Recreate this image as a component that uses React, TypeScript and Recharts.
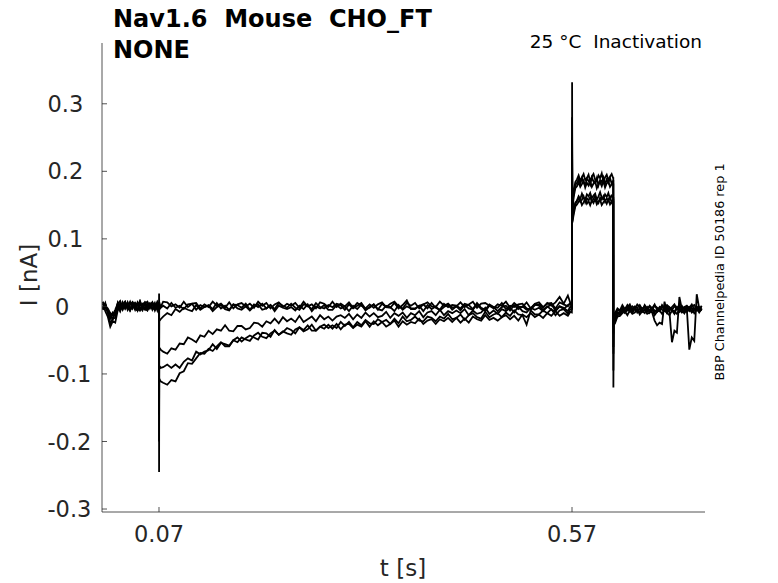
import React from 'react';
import { LineChart, Line, XAxis, YAxis } from 'recharts';

// sample times in ms, split by protocol phase
const PRE_MS = [
  2, 5, 8, 11, 14, 17, 20, 23, 26, 29,
  32, 35, 38, 41, 44, 47, 50, 53, 56, 59,
  62, 65, 68, 69.8,
];
const COND_MS = [
  70, 70.1, 70.3, 72, 75,
  80, 85, 90, 95, 100, 105, 110, 115, 120, 125,
  130, 135, 140, 145, 150, 155, 160, 165, 170, 175,
  180, 185, 190, 195, 200, 205, 210, 215, 220, 225,
  230, 235, 240, 245, 250, 255, 260, 265, 270, 275,
  280, 285, 290, 295, 300, 305, 310, 315, 320, 325,
  330, 335, 340, 345, 350, 355, 360, 365, 370, 375,
  380, 385, 390, 395, 400, 405, 410, 415, 420, 425,
  430, 435, 440, 445, 450, 455, 460, 465, 470, 475,
  480, 485, 490, 495, 500, 505, 510, 515, 520, 525,
  530, 535, 540, 545, 550, 555, 560, 565, 568, 569.8,
];
const TEST_MS = [
  570, 570.1, 570.4,
  572, 574, 576, 578, 580, 582, 584, 586, 588, 590,
  592, 594, 596, 598, 600, 602, 604, 606, 608, 610,
  612, 614, 616, 618, 619.8,
];
const TAIL_MS = [
  620, 620.1, 620.4,
  622, 625, 628, 631, 634, 637, 640, 643, 646, 649,
  652, 655, 658, 661, 664, 667, 670, 673, 676, 679,
  682, 685, 688, 691, 694, 697, 700, 703, 706, 709,
  712, 715, 718, 721, 724, 727,
];

// current in pA, one row per sweep
const PRE_PA = [
  [-3, 5, -9, -26, -18, -17, 4, -5, 6, -3, 5, -6, 3, -5, 6, -2, -6, 5, -3, 4, -5, 3, -4, 2],
  [4, -7, -15, -30, -22, -24, -6, 5, -4, 6, -5, 3, 6, -4, -6, 4, -2, -5, 5, -3, 4, -6, 3, -1],
  [6, -2, -8, -10, -14, -12, 5, -6, 3, 7, -2, -5, 6, 2, -6, 7, -3, 4, -5, 3, 6, -3, 5, -2],
  [-4, 3, -6, -18, -9, -12, 2, -7, 4, -3, 6, -5, 1, 5, -4, -6, 3, 6, -5, 1, -3, 5, -6, 2],
  [7, -1, -3, -10, -13, -5, 4, 8, -2, 6, 0, 7, -3, 5, 1, 8, -2, 4, 7, -1, 6, -2, 7, 3],
  [-5, 3, -8, -12, -20, -9, -6, 3, -5, 4, -3, -6, 4, -1, 5, -5, 3, -4, -6, 4, -2, -5, 3, -3],
];

const COND_PA = [
  [
    1, -245, -107, -111, -113,
    -116, -109, -111, -99, -96, -84, -85, -77, -69, -70,
    -63, -66, -59, -53, -59, -59, -50, -53, -46, -49,
    -51, -43, -39, -45, -47, -40, -36, -42, -38, -32,
    -35, -40, -31, -35, -28, -36, -36, -30, -33, -27,
    -33, -26, -34, -27, -26, -32, -27, -30, -22, -30,
    -22, -28, -23, -30, -26, -21, -30, -22, -27, -23,
    -25, -18, -26, -21, -19, -26, -19, -22, -17, -23,
    -17, -24, -18, -24, -15, -19, -21, -13, -20, -17,
    -21, -16, -13, -19, -14, -21, -12, -16, -10, -16,
    -12, -17, -10, -14, -7, -14, -10, -14, -8, -9,
  ],
  [
    0, -200, -88, -91, -90,
    -86, -91, -86, -91, -82, -77, -80, -67, -71, -67,
    -65, -56, -63, -54, -56, -58, -50, -46, -52, -47,
    -43, -46, -49, -39, -40, -45, -35, -42, -37, -40,
    -42, -34, -31, -37, -34, -27, -36, -30, -27, -32,
    -28, -32, -23, -29, -23, -31, -23, -28, -20, -25,
    -26, -19, -23, -20, -26, -18, -25, -15, -22, -20,
    -15, -21, -22, -15, -17, -22, -15, -18, -11, -19,
    -17, -12, -20, -13, -10, -16, -18, -8, -16, -12,
    -10, -16, -9, -14, -6, -12, -13, -27, -6, -12,
    -12, -6, -10, -4, -13, -6, -4, -11, -4, -4,
  ],
  [
    -2, -160, -61, -64, -67,
    -70, -62, -64, -55, -56, -46, -49, -53, -43, -45,
    -36, -41, -34, -36, -28, -36, -37, -29, -29, -34,
    -32, -24, -25, -30, -22, -25, -18, -25, -16, -22,
    -18, -23, -14, -23, -19, -15, -22, -13, -19, -15,
    -21, -15, -13, -17, -11, -19, -12, -17, -9, -15,
    -10, -16, -14, -8, -17, -10, -14, -9, -17, -10,
    -13, -7, -16, -9, -7, -13, -5, -13, -7, -10,
    -6, -10, -4, -13, -6, -11, -9, -2, -11, -6,
    -11, -4, -7, -2, -9, 0, -7, -9, -2, -5,
    -2, -7, 0, -5, -7, 0, -2, -7, 0, -2,
  ],
  [
    1, -120, -22, -19, -15,
    -10, -13, -4, -8, -2, -5, -7, 2, -5, -1,
    1, -7, -1, 2, -4, -6, 3, -3, -5, 0,
    -6, 0, 3, -5, -3, 2, -7, 1, -2, -4,
    -1, -6, 1, -4, 3, -7, 0, -3, 2, -5,
    -5, 2, -3, 0, -7, 1, -4, 3, -6, -1,
    3, -4, -6, 1, -1, -7, 2, -5, 0, -3,
    -3, 1, -7, 2, -4, 0, -6, -1, 3, -5,
    0, -6, 2, -3, -5, 3, -4, -7, 1, -1,
    -7, -1, 1, -6, 2, -4, 0, -5, -3, 3,
    1, -5, -1, 3, -6, 0, -4, 2, 4, -1,
  ],
  [
    3, -80, 6, -1, 7,
    6, 0, 3, -2, 7, -1, 4, 5, -3, 3,
    -1, 7, 1, 4, -2, 6, -3, 3, 5, 0,
    4, -2, 7, 1, 5, -3, 3, 6, -1, 4,
    1, 5, -2, 7, 0, 3, -3, 6, 4, -1,
    7, -1, 4, 0, 6, -2, 5, 1, -3, 3,
    -2, 3, 6, -1, 4, 7, 0, -3, 5, 1,
    5, -3, 3, 6, 0, -1, 7, 1, 4, -2,
    0, 6, -1, 3, 7, -2, 4, 5, 1, -3,
    3, 1, 7, -2, 5, 0, -1, 6, -3, 4,
    6, -1, 4, 5, -3, 6, 3, 0, 5, 2,
  ],
  [
    0, 19, -4, -2, 1,
    -3, 5, -2, 1, -4, 3, 4, -5, 2, -1,
    2, -4, 5, -3, 1, -5, 3, 2, -2, 4,
    -5, 3, -1, 4, -3, 2, -4, 5, 1, -2,
    4, -2, -5, 3, 1, -4, 5, -1, -3, 2,
    -1, 4, 2, -5, 3, -3, 1, 5, -4, -2,
    3, -5, 4, -1, -2, 5, -3, 2, 9, -4,
    -4, 1, 3, -3, 5, -2, -5, 4, -1, 2,
    1, -3, 4, 2, -4, 5, -2, -5, 3, -1,
    -2, 5, -4, 1, -1, 3, 4, -3, -5, 2,
    3, -2, 5, 1, 6, 14, 4, 16, 5, 3,
  ],
];

const TEST_PA = [
  [0, 332, 126, 140, 151, 157, 163, 159, 167, 161, 158, 166, 163, 168, 160, 164, 167, 158, 163, 169, 161, 159, 166, 162, 168, 159, 164, 161],
  [-3, 280, 130, 145, 154, 156, 160, 155, 158, 163, 154, 160, 157, 162, 155, 159, 164, 156, 153, 161, 158, 163, 155, 160, 157, 162, 154, 158],
  [-1, 250, 124, 136, 148, 151, 155, 158, 150, 154, 159, 152, 156, 150, 157, 153, 159, 151, 155, 158, 150, 154, 157, 152, 158, 151, 155, 155],
  [0, 230, 150, 171, 184, 188, 194, 186, 191, 196, 187, 190, 195, 185, 192, 196, 188, 186, 194, 190, 197, 185, 191, 195, 187, 192, 196, 190],
  [4, 210, 145, 167, 180, 183, 188, 181, 190, 184, 179, 189, 186, 180, 191, 185, 182, 190, 179, 187, 184, 191, 181, 188, 183, 190, 182, 186],
  [2, 195, 140, 162, 175, 178, 184, 177, 181, 186, 176, 183, 179, 185, 177, 182, 186, 175, 181, 184, 178, 186, 176, 182, 185, 177, 181, 181],
];

const TAIL_PA = [
  [
    162, -120, -26,
    -23, -13, -12, -7, -10, -3, -8, -5, -2, -9,
    -4, -7, -10, -2, -6, -9, -21, -28, -24, -26,
    7, -9, -3, -6, -11, -2, -8, -5, -10, -3,
    -7, -2, -10, -5, -8, -3,
  ],
  [
    158, -95, -22,
    -19, -10, -11, -4, -8, -6, -1, -9, -4, -7,
    -2, -8, -5, -1, -9, -3, -6, -8, -1, -5,
    -7, -2, -9, -53, -36, -39, 14, -4, -1, -8,
    -3, -9, -5, -1, -7, -4,
  ],
  [
    155, -70, -28,
    -25, -15, -14, -10, -7, -13, -6, -11, -9, -4,
    -12, -7, -5, -11, -9, -4, -13, -8, -6, -11,
    -5, -10, -13, -6, -8, -11, -4, -9, -7, -3,
    -64, -46, -51, 18, -3, -6,
  ],
  [
    190, -60, -15,
    -13, -6, -7, -1, -4, 2, -5, 0, -3, 3,
    -1, -6, 2, -3, 0, -5, 1, -2, -6, 2,
    -3, 1, -6, -1, 3, -4, -2, 1, -5, 0,
    -2, 3, -4, 0, -5, 1,
  ],
  [
    186, -40, -20,
    -17, -9, -10, -3, -7, -5, 0, -8, -2, -6,
    -9, -3, -1, -8, -5, -2, -9, -4, -7, 0,
    -6, -9, -2, -5, -8, -1, -7, -3, -10, -4,
    -1, -8, -5, -2, -9, -3,
  ],
  [
    182, -30, -12,
    -10, -3, -6, 2, -4, -1, 3, -5, 0, -2,
    2, -4, -1, -6, 1, -3, 3, -5, -2, 0,
    -4, 2, -1, -5, 0, -3, 2, -6, -1, 1,
    -3, 0, 2, -4, -1, -2,
  ],
];

const SWEEPS = ['s1', 's2', 's3', 's4', 's5', 's6'];
const X_TICKS = [0.07, 0.57];
const Y_TICKS = [-0.3, -0.2, -0.1, 0, 0.1, 0.2, 0.3];

const TIME_MS = [...PRE_MS, ...COND_MS, ...TEST_MS, ...TAIL_MS];
const SWEEP_PA = SWEEPS.map((_, k) => [...PRE_PA[k], ...COND_PA[k], ...TEST_PA[k], ...TAIL_PA[k]]);

const rows = TIME_MS.map((ms, i) => {
  const row: Record<string, number | null> = { t: ms / 1000 };
  SWEEPS.forEach((key, k) => {
    const v = SWEEP_PA[k][i];
    row[key] = v === undefined ? null : v / 1000;
  });
  return row;
});

const FONT = 'DejaVu Sans';
const INK = '#262626';

const YTick = (props: any) => {
  const { y, payload } = props;
  return (
    <text x={payload.value === 0 ? 55 : 47.5} y={y} dy="0.36em" textAnchor="start"
      fontSize={22.5} fontFamily={FONT} fill={INK}>
      {payload.value}
    </text>
  );
};

const XTick = (props: any) => {
  const { x, payload } = props;
  return (
    <text x={x} y={542} textAnchor="middle" fontSize={22.5} fontFamily={FONT} fill={INK}>
      {payload.value}
    </text>
  );
};

const pre = { whiteSpace: 'pre' as const };

export default function App() {
  return (
    <div style={{ position: 'absolute', left: 0, top: 0, width: 778, height: 583, background: '#fff' }}>
      <LineChart width={778} height={583} data={rows}
        margin={{ top: 43, right: 73, bottom: 41, left: 42 }}>
        <XAxis dataKey="t" type="number" domain={[0.001, 0.731]} allowDataOverflow
          ticks={X_TICKS} interval={0} height={30} tickSize={-5} tickMargin={10}
          axisLine={{ stroke: INK, strokeWidth: 0.8 }} tickLine={{ stroke: INK, strokeWidth: 0.8 }}
          tick={<XTick />} />
        <YAxis type="number" domain={[-0.3044, 0.39]} allowDataOverflow
          ticks={Y_TICKS} interval={0} width={60} tickSize={-5} tickMargin={10}
          axisLine={{ stroke: INK, strokeWidth: 0.8 }} tickLine={{ stroke: INK, strokeWidth: 0.8 }}
          tick={<YTick />} />
        {SWEEPS.map((key) => (
          <Line key={key} dataKey={key} type="linear" stroke="#000" strokeWidth={1.8}
            dot={false} isAnimationActive={false} connectNulls />
        ))}
      </LineChart>
      <svg width={778} height={583} style={{ position: 'absolute', left: 0, top: 0, pointerEvents: 'none' }}>
        <g fontFamily={FONT}>
          <text x={113} y={27} fontSize={24} fontWeight="bold" fill="#000" xmlSpace="preserve" style={pre}>
            Nav1.6{'  '}Mouse{'  '}CHO_FT
          </text>
          <text x={113} y={58} fontSize={24} fontWeight="bold" fill="#000">NONE</text>
          <text x={702} y={48} fontSize={18.5} textAnchor="end" fill="#000" xmlSpace="preserve" style={pre}>
            25 °C{'  '}Inactivation
          </text>
          <text x={403} y={576} fontSize={23} textAnchor="middle" fill={INK}>t [s]</text>
          <text x={37} y={275} fontSize={23} textAnchor="middle" fill={INK}
            transform="rotate(-90 37 275)">I [nA]</text>
          <text x={724} y={272} fontSize={12.8} textAnchor="middle" fill="#000"
            transform="rotate(-90 724 272)">BBP Channelpedia ID 50186 rep 1</text>
        </g>
      </svg>
    </div>
  );
}
